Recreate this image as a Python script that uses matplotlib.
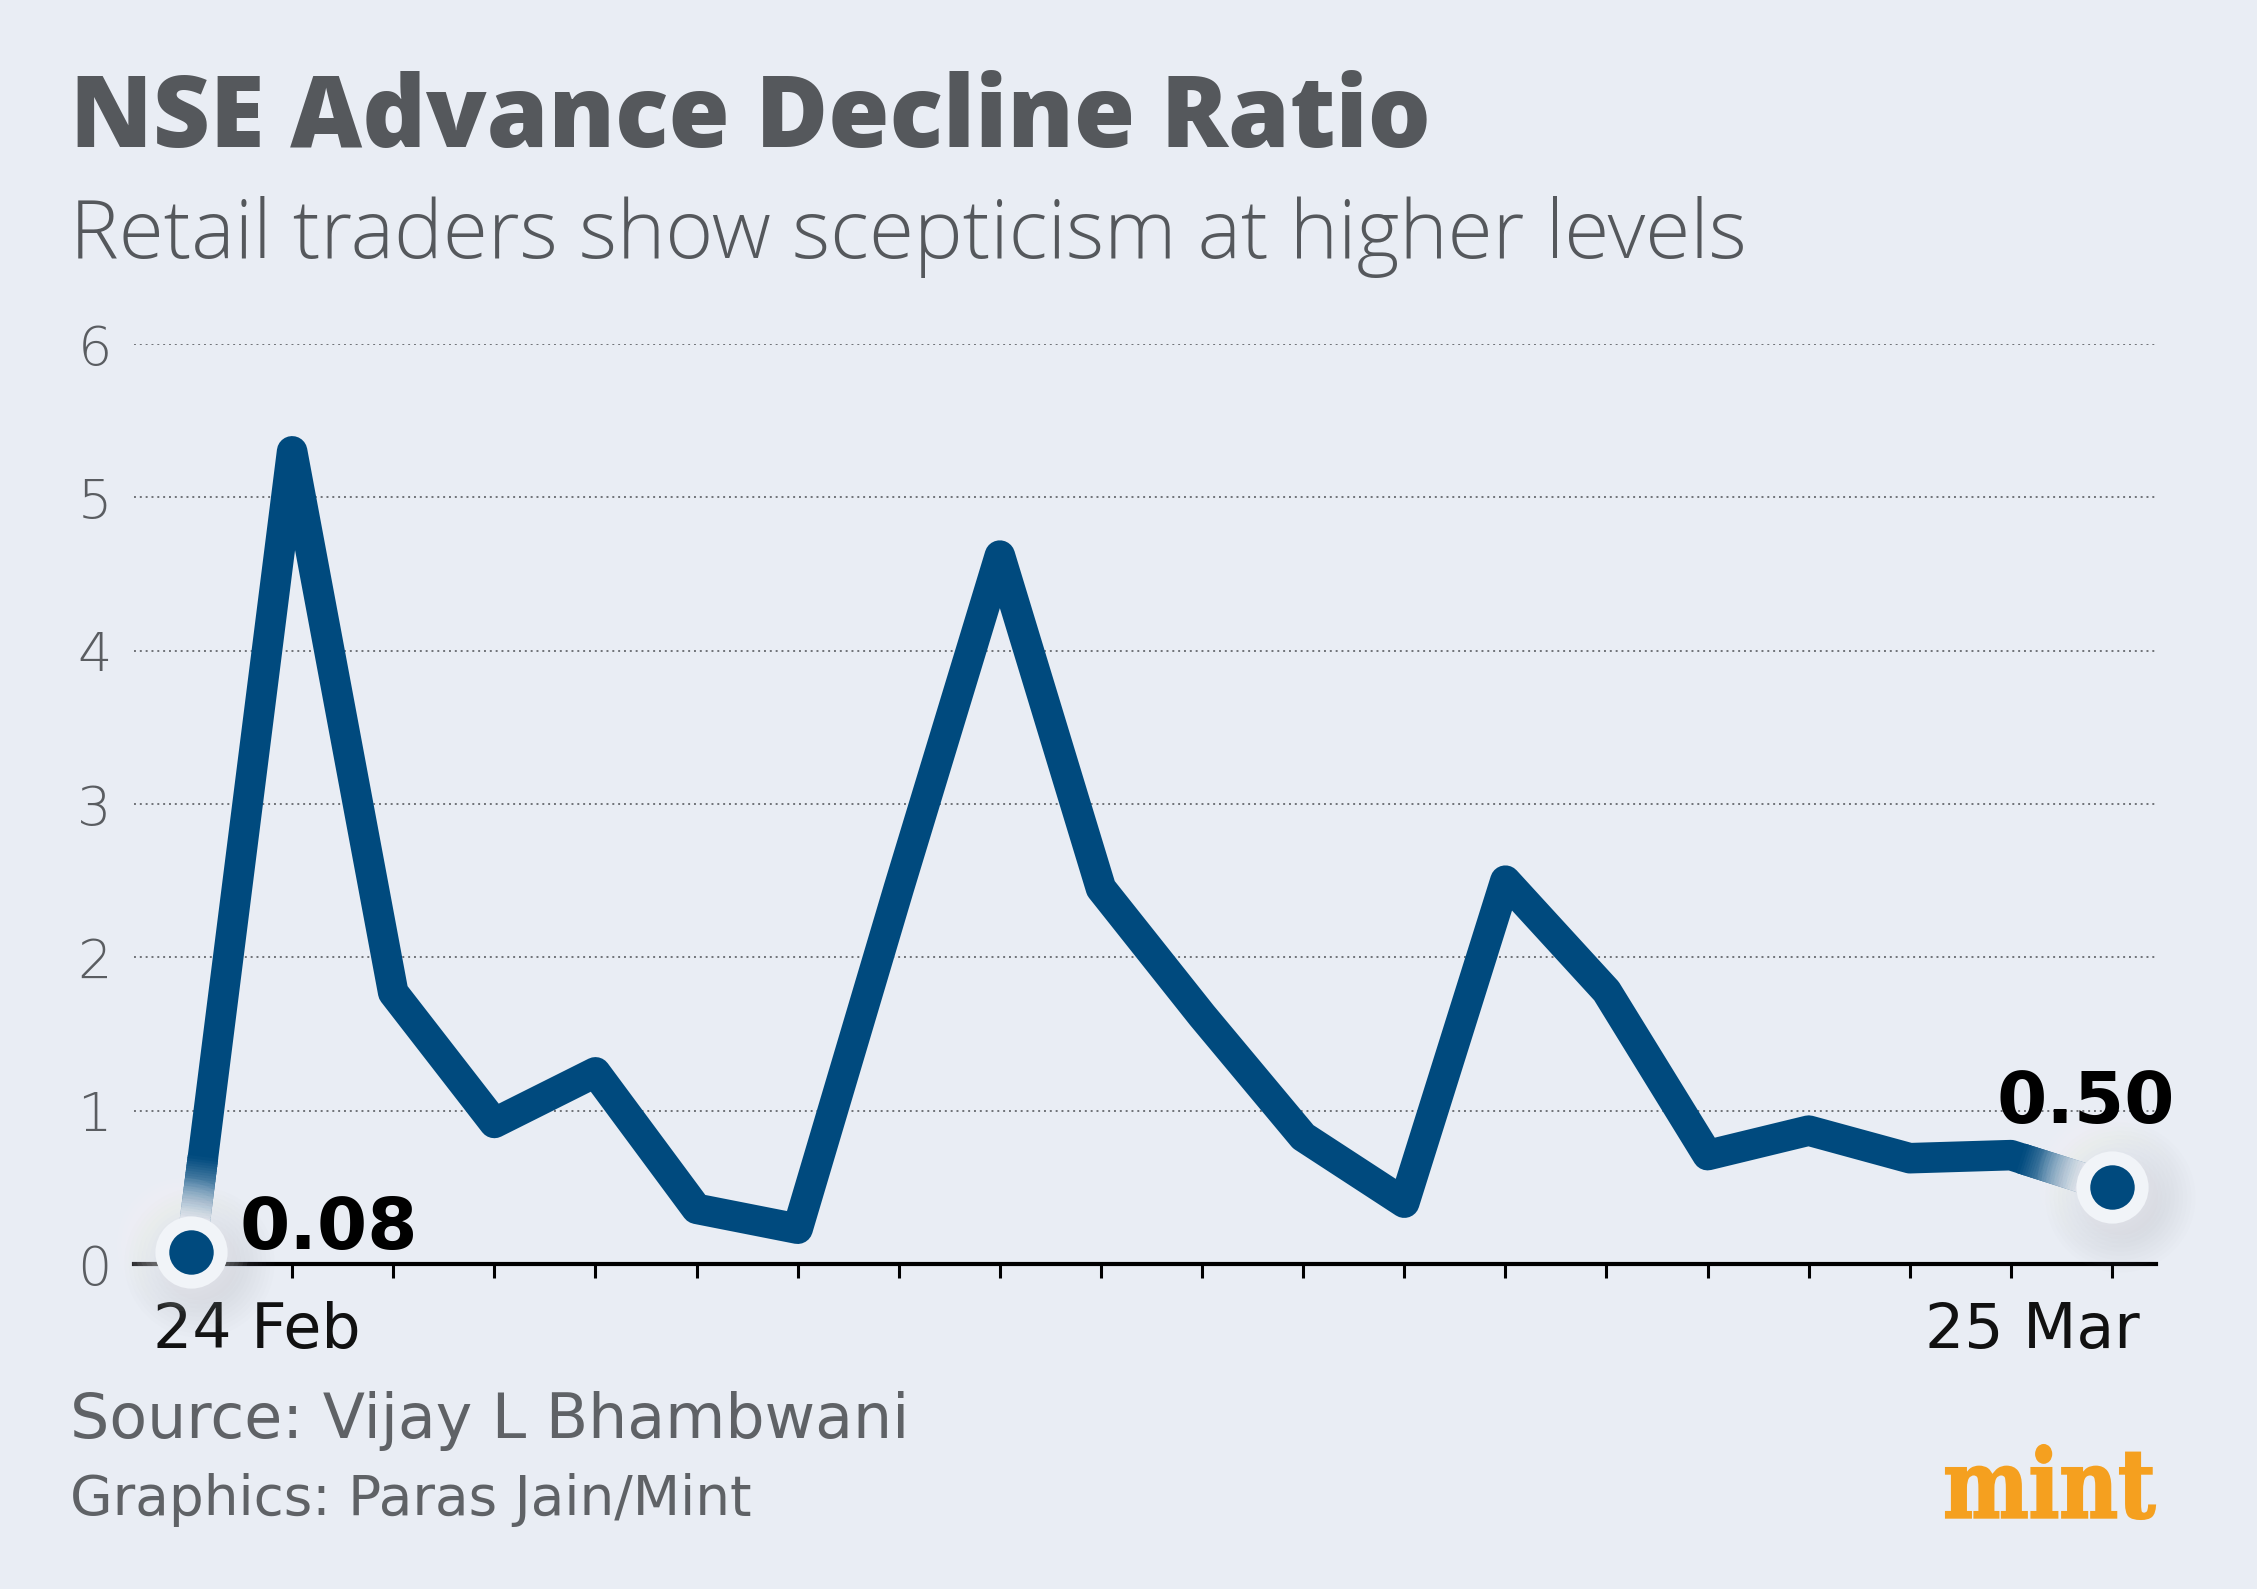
import numpy as np
import matplotlib
matplotlib.use('Agg')
import matplotlib.pyplot as plt
from matplotlib import transforms
from matplotlib.textpath import TextPath
from matplotlib.patches import PathPatch
from matplotlib.font_manager import FontProperties
from matplotlib.colors import to_rgb

# data (one value per trading day, 24 Feb .. 25 Mar)
ratio = [0.08, 5.30, 1.77, 0.92, 1.25, 0.36, 0.23, 2.45, 4.62, 2.45,
         1.62, 0.83, 0.40, 2.50, 1.78, 0.71, 0.87, 0.69, 0.71, 0.50]
days = np.arange(len(ratio))
y_ticks = [0, 1, 2, 3, 4, 5, 6]
x_labels = ['24 Feb', '25 Mar']
end_labels = ['0.08', '0.50']

bg = '#e9edf4'
blue = '#004a7e'
grey_txt = '#55585c'
halo_col = '#f1f4f8'

W, H = 2257, 1589
fig = plt.figure(figsize=(W / 100, H / 100), dpi=100)
fig.patch.set_facecolor(bg)

def fx(px):
    return px / W

def fy(py):
    return 1 - py / H

# titles
fig.text(fx(70), fy(147), 'NSE Advance Decline Ratio', fontsize=71.5, fontweight='heavy',
         family='Open Sans', color=grey_txt, va='baseline', ha='left')
fig.text(fx(70), fy(258), 'Retail traders show scepticism at higher levels', fontsize=59,
         fontweight='light', family='Open Sans', color=grey_txt, va='baseline', ha='left')

# main axes
ax = fig.add_axes([fx(134), fy(1264), (2156 - 134) / W, (1264 - 344) / H])
ax.set_facecolor(bg)
ax.set_xlim(-0.564, 19.435)
ax.set_ylim(0, 6)

for y in y_ticks[1:]:
    ax.axhline(y, color='#6f7277', lw=1.4, ls=(0, (1.0, 2.0)), zorder=1)

for s in ['top', 'right', 'left']:
    ax.spines[s].set_visible(False)
ax.spines['bottom'].set_linewidth(3)
ax.spines['bottom'].set_color('black')
ax.spines['bottom'].set_zorder(2)

ax.set_xticks(days)
ax.set_xticklabels([])
ax.tick_params(axis='x', length=10, width=2.2, color='black', direction='out')
ax.set_yticks(y_ticks)
ax.set_yticklabels([str(v) for v in y_ticks])
ax.tick_params(axis='y', length=0, pad=16, labelsize=39, labelcolor='#5a5d61')
for lab in ax.get_yticklabels():
    lab.set_fontweight('light')
    lab.set_family('DejaVu Sans')

# x labels at the first and last day
ax.text(days[0], 0, x_labels[0], fontsize=44.5, color='#111111', ha='left', va='baseline',
        transform=transforms.offset_copy(ax.transData, fig, -38, -84, units='dots'))
ax.text(days[-1], 0, x_labels[1], fontsize=44.5, color='#111111', ha='right', va='baseline',
        transform=transforms.offset_copy(ax.transData, fig, 28, -84, units='dots'))

# the line
lw = 22
ax.plot(days, ratio, color=blue, lw=lw, solid_joinstyle='round', solid_capstyle='butt',
        zorder=3, clip_on=False)

# fade the line into the end markers
line_rgb = np.array(to_rgb(blue))
fade_rgb = np.array(to_rgb('#e2e8f1'))
inv = ax.transData.inverted()
for i0, i1 in [(0, 1), (len(ratio) - 1, len(ratio) - 2)]:
    p0 = ax.transData.transform((days[i0], ratio[i0]))
    p1 = ax.transData.transform((days[i1], ratio[i1]))
    u = (p1 - p0) / np.hypot(*(p1 - p0))
    n = 30
    d0, d1 = 20, 95
    step = (d1 - d0) / n
    for k in range(n):
        da = d0 + k * step
        db = da + step * 1.3
        t = min(1.0, max(0.0, (da + step / 2 - 34) / (d1 - 34))) ** 0.8
        c = fade_rgb * (1 - t) + line_rgb * t
        a = inv.transform(p0 + u * da)
        b = inv.transform(p0 + u * db)
        ax.plot([a[0], b[0]], [a[1], b[1]], color=c, lw=lw, solid_capstyle='butt',
                zorder=4, clip_on=False)

# end markers with glow and shadow
for i in [0, len(ratio) - 1]:
    for k in range(10):
        ms = 54 + k * 6
        ax.plot(days[i], ratio[i], 'o', ms=ms, color='#9aa3b6', alpha=0.022, mec='none',
                zorder=5, clip_on=False,
                transform=transforms.offset_copy(ax.transData, fig, 8, -10, units='dots'))
    for k in range(8):
        ms = 54 + k * 6
        ax.plot(days[i], ratio[i], 'o', ms=ms, color='white', alpha=0.05, mec='none',
                zorder=5, clip_on=False,
                transform=transforms.offset_copy(ax.transData, fig, -8, 8, units='dots'))
    ax.plot(days[i], ratio[i], 'o', ms=52, color=halo_col, mec='none', zorder=6, clip_on=False)
    ax.plot(days[i], ratio[i], 'o', ms=32, color=blue, mec='none', zorder=7, clip_on=False)

ax.annotate(end_labels[0], (days[0], ratio[0]), xytext=(35, 2), textcoords='offset points',
            fontsize=52, fontweight='bold', color='black', ha='left', va='baseline', zorder=8)
ax.annotate(end_labels[1], (days[-1], ratio[-1]), xytext=(-19, 46), textcoords='offset points',
            fontsize=52, fontweight='bold', color='black', ha='center', va='baseline', zorder=8)

# footer
fig.text(fx(70), fy(1438), 'Source: Vijay L Bhambwani', fontsize=44.5, color='#5f6266',
         va='baseline', ha='left')
fig.text(fx(70), fy(1515), 'Graphics: Paras Jain/Mint', fontsize=39.5, color='#5f6266',
         va='baseline', ha='left')

# mint logo
tp = TextPath((0, 0), 'mint', prop=FontProperties(family='DejaVu Serif', weight='bold'), size=100)
ext = tp.get_extents()
sx = 209 / ext.width
sy = 74 / ext.height
tr = transforms.Affine2D().translate(-ext.x0, -ext.y0).scale(sx, sy).translate(1946, H - 1519)
fig.add_artist(PathPatch(tp, facecolor='#f5a01f', edgecolor='#f5a01f', lw=1.5,
                         transform=tr + transforms.IdentityTransform()))

fig.savefig('out.png', dpi=100, facecolor=bg)
